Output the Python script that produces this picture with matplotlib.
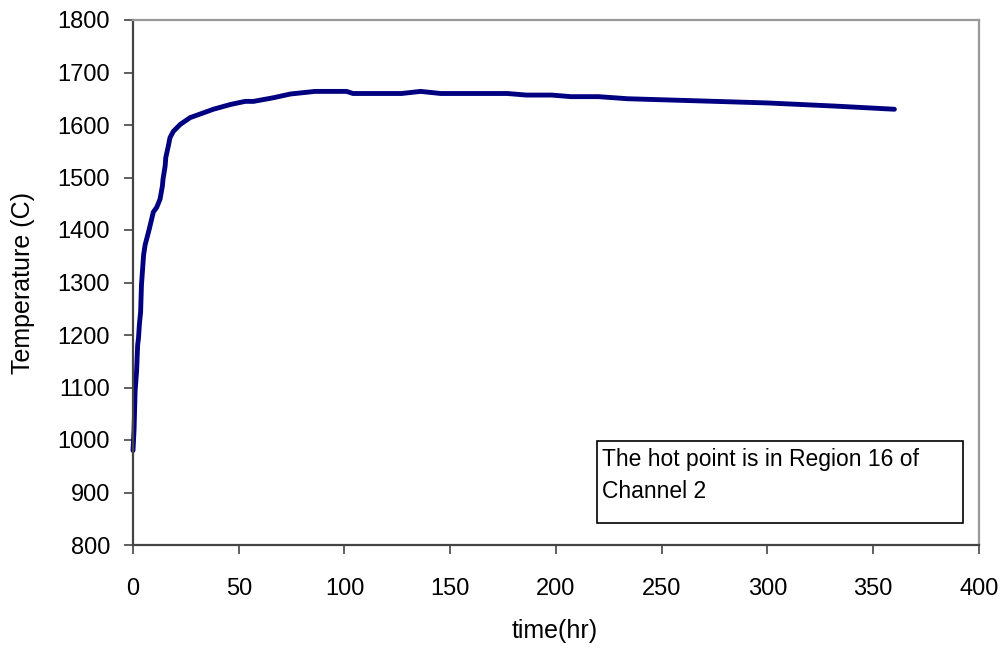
import matplotlib
matplotlib.use("Agg")
import matplotlib.pyplot as plt
from matplotlib.patches import Rectangle

plt.rcParams['font.family'] = ['Liberation Sans', 'DejaVu Sans']

# Hot-point temperature history
time_hr = [0, 0.5, 1, 1.7, 2.2, 2.6, 3, 3.6, 4, 5, 5.7, 7.7, 9.6, 11.2, 12.8,
           13.9, 14.2, 15.2, 15.5, 16.7, 17.5, 19.1, 22.3, 27, 38, 46, 53, 57,
           66.5, 74.4, 86, 101, 104, 127, 136, 145.5, 177, 186, 198, 207, 220,
           234, 259, 300, 332, 360]
temp_c = [980, 1020, 1093, 1131, 1181, 1194, 1219, 1244, 1295, 1352, 1371,
          1402, 1434, 1443, 1459, 1484, 1497, 1522, 1538, 1560, 1576, 1588,
          1601, 1614, 1630, 1639, 1645, 1645, 1652, 1659, 1664, 1664, 1660,
          1660, 1664, 1660, 1660, 1657, 1657, 1654, 1654, 1650, 1647, 1642,
          1636, 1630]

x_ticks = [0, 50, 100, 150, 200, 250, 300, 350, 400]
y_ticks = [800, 900, 1000, 1100, 1200, 1300, 1400, 1500, 1600, 1700, 1800]
note_lines = ["The hot point is in Region 16 of", "Channel 2"]

W, H = 1004, 650
fig = plt.figure(figsize=(W / 100, H / 100), dpi=100)
ax = fig.add_axes([133 / W, 1 - 545 / H, (979 - 133) / W, (545 - 20) / H])

ax.plot(time_hr, temp_c, color='#000080', linewidth=3.5,
        solid_capstyle='round', solid_joinstyle='round', clip_on=False)

ax.set_xlim(0, 400)
ax.set_ylim(800, 1800)
ax.set_xticks(x_ticks)
ax.set_yticks(y_ticks)
ax.tick_params(axis='both', labelsize=17, direction='out', length=6.5,
               width=1.2, color='#444444')
ax.tick_params(axis='y', pad=10)
ax.tick_params(axis='x', pad=17)

for side in ('left', 'bottom'):
    ax.spines[side].set_color('#444444')
    ax.spines[side].set_linewidth(1.6)
for side in ('top', 'right'):
    ax.spines[side].set_color('#999999')
    ax.spines[side].set_linewidth(1.6)

ax.set_xlabel('time(hr)', fontsize=18)
ax.set_ylabel('Temperature (C)', fontsize=18)
ax.xaxis.set_label_coords((555 - 133) / 846, (545 - 619) / 525)
ax.yaxis.set_label_coords((35 - 133) / 846, 0.5)

# Annotation box
bx0, by0, bx1, by1 = 597, 441, 963, 523
fig.patches.append(Rectangle((bx0 / W, 1 - by1 / H), (bx1 - bx0) / W,
                             (by1 - by0) / H, transform=fig.transFigure,
                             facecolor='white', edgecolor='black',
                             linewidth=1.2, zorder=5))
for line, base in zip(note_lines, (466, 498)):
    fig.text(602 / W, 1 - base / H, line, fontsize=16.5, va='baseline',
             ha='left', zorder=6)

fig.savefig('out.png', dpi=100)
